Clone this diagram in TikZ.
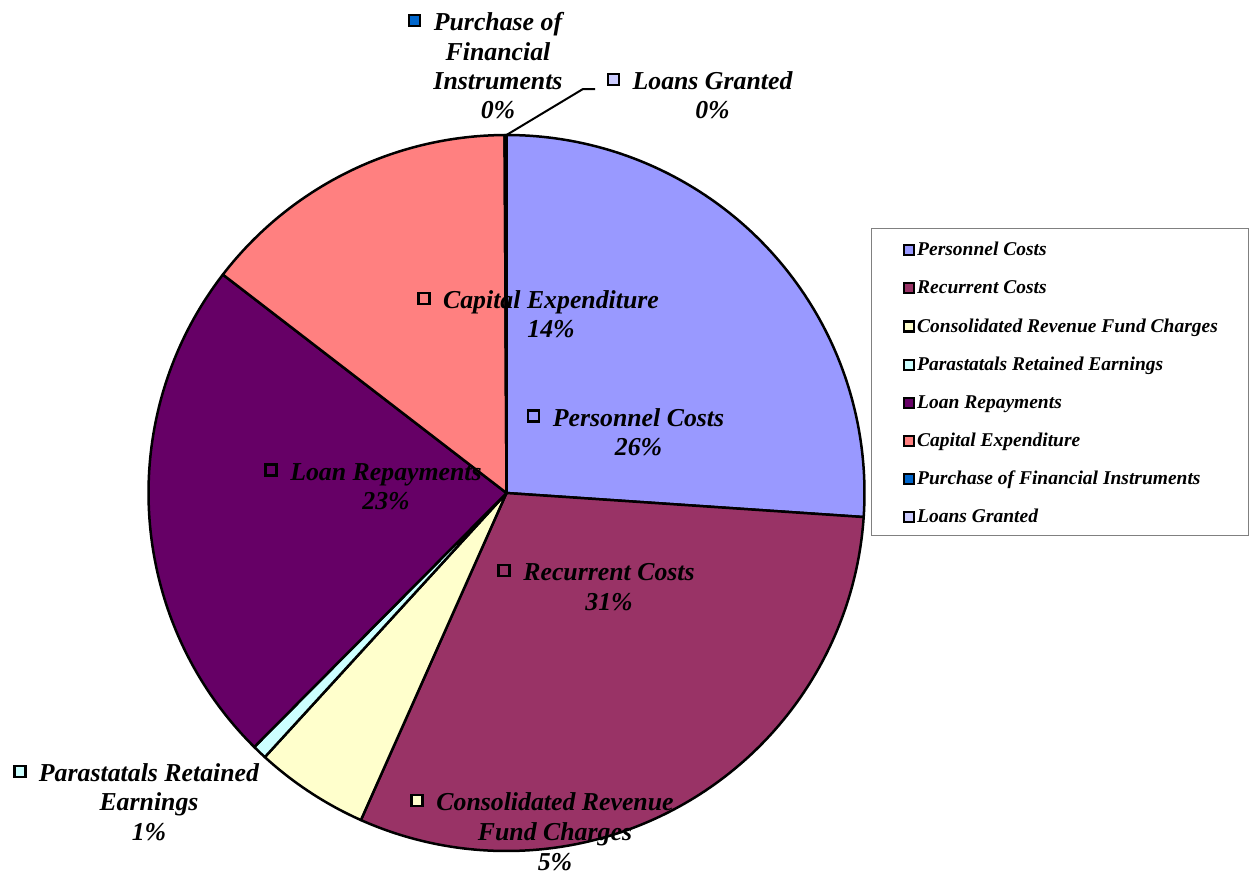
\documentclass[tikz,border=0pt]{standalone}
\usepackage{fontspec}
\setmainfont{Liberation Serif}
\usetikzlibrary{calc}
\definecolor{cPers}{HTML}{9999FF}
\definecolor{cRec}{HTML}{993366}
\definecolor{cCons}{HTML}{FFFFCC}
\definecolor{cPara}{HTML}{CCFFFF}
\definecolor{cLoan}{HTML}{660066}
\definecolor{cCap}{HTML}{FF8080}
\definecolor{cPurch}{HTML}{0066CC}
\definecolor{cGrant}{HTML}{CCCCFF}
\definecolor{cFrame}{HTML}{808080}
\newcommand\pieslice[3]{\filldraw[slicestyle, fill=#3] (O) -- +(#1:358) arc[start angle=#1, end angle=#2, radius=358] -- cycle;}
\begin{document}
\begin{tikzpicture}[x=1pt,y=-1pt,
  slicestyle/.style={draw=black, line width=2.5pt, line join=round},
  lbl/.style={font=\fontsize{25.8}{30}\selectfont\bfseries\itshape, inner sep=0pt, anchor=base},
  keyin/.style={draw=black, line width=2.5pt, minimum size=11pt, inner sep=0pt},
  keyout/.style={keyin},
  lgtxt/.style={font=\fontsize{19.5}{22}\selectfont\bfseries\itshape, inner sep=0pt, anchor=base west},
  lgkey/.style={draw=black, line width=2.2pt, minimum size=10pt, inner sep=0pt},
  leader/.style={draw=black, line width=2pt}]
\useasboundingbox (0,0) rectangle (1249,878);
\coordinate (O) at (506.5,493);
% pie slices (screen angles, clockwise from top)
\pieslice{-90}{3.85}{cPers}
\pieslice{3.85}{114.0}{cRec}
\pieslice{114.0}{132.46}{cCons}
\pieslice{132.46}{134.8}{cPara}
\pieslice{134.8}{217.6}{cLoan}
\pieslice{217.6}{269.7}{cCap}
\pieslice{269.7}{269.85}{cPurch}
\pieslice{269.85}{270}{cGrant}
\coordinate (top) at ($(O)+(-90:358)$);
% leader line to Loans Granted label
\coordinate (lgbend) at (583,89);
\coordinate (lgend) at (595,89);
\draw[leader] (top) -- (lgbend) -- (lgend);

% labels
\node[lbl] (purA) at (498,30.5) {Purchase of};
\node[lbl] (purB) at (498,60) {Financial};
\node[lbl] (purC) at (498,89.5) {Instruments};
\node[lbl] (purD) at (498,118.5) {0\%};
\node[keyout, fill=cPurch] (purK) at ($(purA.base west)+(-19,-10)$) {};

\node[lbl] (lgA) at (712.5,89.5) {Loans Granted};
\node[lbl] (lgB) at (712.5,118.5) {0\%};
\node[keyout, fill=cGrant] (lgK) at ($(lgA.base west)+(-19,-10)$) {};

\node[lbl] (capA) at (551,308.3) {Capital Expenditure};
\node[lbl] (capB) at (551,337.7) {14\%};
\node[keyin] (capK) at ($(capA.base west)+(-19,-10)$) {};

\node[lbl] (perA) at (638.5,426) {Personnel Costs};
\node[lbl] (perB) at (638.5,455) {26\%};
\node[keyin] (perK) at ($(perA.base west)+(-19,-10)$) {};

\node[lbl] (loA) at (386,480) {Loan Repayments};
\node[lbl] (loB) at (386,509.3) {23\%};
\node[keyin] (loK) at ($(loA.base west)+(-19,-10)$) {};

\node[lbl] (recA) at (609,580.5) {Recurrent Costs};
\node[lbl] (recB) at (609,610) {31\%};
\node[keyin] (recK) at ($(recA.base west)+(-19,-10)$) {};

\node[lbl] (conA) at (555,810.7) {Consolidated Revenue};
\node[lbl] (conB) at (555,840.5) {Fund Charges};
\node[lbl] (conC) at (555,870) {5\%};
\node[keyout, fill=cCons] (conK) at ($(conA.base west)+(-19,-10)$) {};

\node[lbl] (parA) at (149,781.7) {Parastatals Retained};
\node[lbl] (parB) at (149,810.7) {Earnings};
\node[lbl] (parC) at (149,840.7) {1\%};
\node[keyout, fill=cPara] (parK) at ($(parA.base west)+(-19,-10)$) {};

% legend
\draw[cFrame, line width=1pt] (871,228) rectangle (1248,535);
\foreach \i/\c/\t in {0/cPers/Personnel Costs,1/cRec/Recurrent Costs,2/cCons/Consolidated Revenue Fund Charges,3/cPara/Parastatals Retained Earnings,4/cLoan/Loan Repayments,5/cCap/Capital Expenditure,6/cPurch/Purchase of Financial Instruments,7/cGrant/Loans Granted}{
  \node[lgtxt] (lt\i) at (917,{255.7+38.15*\i}) {\t};
  \node[lgkey, fill=\c] (lk\i) at (909,{250.2+38.15*\i}) {};
}
\end{tikzpicture}
\end{document}
